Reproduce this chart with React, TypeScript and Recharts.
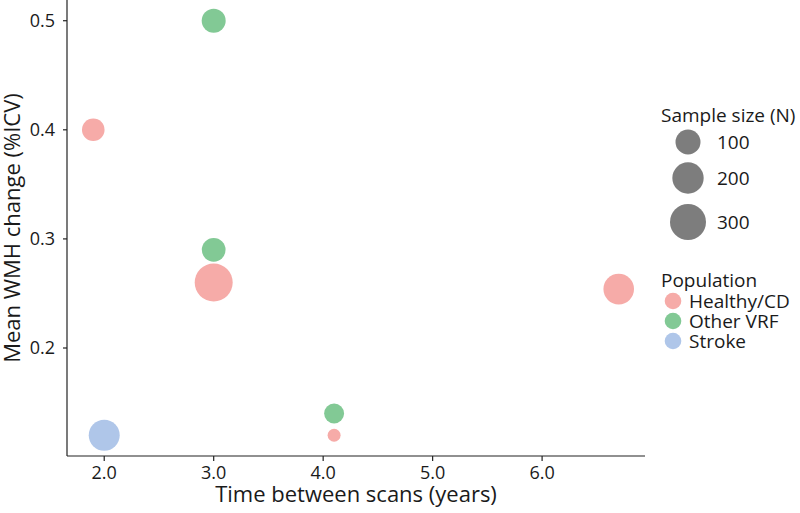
import React from 'react';
import { ScatterChart, Scatter, XAxis, YAxis, ZAxis } from 'recharts';

// ---- data ----
const healthyX = [1.9, 3.0, 4.1, 6.7];
const healthyY = [0.4, 0.26, 0.12, 0.254];
const healthyN = [73, 350, 25, 186];

const otherX = [3.0, 3.0, 4.1];
const otherY = [0.5, 0.29, 0.14];
const otherN = [88, 85, 50];

const strokeX = [2.0];
const strokeY = [0.12];
const strokeN = [193];

const xTicks = [2, 3, 4, 5, 6];
const yTicks = [0.2, 0.3, 0.4, 0.5];
const sizeLegendValues = [100, 200, 300];
const populations = ['Healthy/CD', 'Other VRF', 'Stroke'];
const popColors = ['#F6ABA8', '#82C995', '#AFC6E9'];

const N_MIN = 25;
const N_MAX = 350;

const build = (xs: number[], ys: number[], ns: number[]) =>
  xs.map((x, i) => ({ x, y: ys[i], n: ns[i] }));

const healthy = build(healthyX, healthyY, healthyN);
const other = build(otherX, otherY, otherN);
const stroke = build(strokeX, strokeY, strokeN);

const FONT = "'Open Sans', 'Noto Sans', sans-serif";
const TEXT = '#1a1a1a';

// radius from scaled (0..1) z value, like ggplot's area palette
const radiusFromT = (t: number) => 6.5 + 12.5 * Math.sqrt(Math.max(0, t));

const Bubble = (props: any) => {
  const { cx, cy, fill, size, width } = props;
  let t = typeof size === 'number' ? size : Math.PI * Math.pow((width || 0) / 2, 2);
  if (!isFinite(t)) t = 0;
  return <circle cx={cx} cy={cy} r={radiusFromT(t)} fill={fill} />;
};

const axisStyle = { stroke: '#222', strokeWidth: 1.2 };
const tickStyle = { fill: TEXT, fontSize: 18, fontFamily: FONT };

export default function App() {
  return (
    <div style={{ position: 'absolute', left: 0, top: 0, width: 800, height: 513, background: '#fff' }}>
      <ScatterChart width={800} height={513} margin={{ top: 0, right: 155, bottom: 0, left: 0 }}>
        <XAxis
          type="number"
          dataKey="x"
          domain={[1.66, 6.94]}
          ticks={xTicks}
          allowDataOverflow
          tickFormatter={(v: number) => v.toFixed(1)}
          height={57}
          tickSize={5}
          tickMargin={5}
          axisLine={axisStyle}
          tickLine={axisStyle}
          tick={tickStyle}
          label={{
            content: (p: any) => {
              const vb = p.viewBox || { x: 67, y: 456, width: 578, height: 57 };
              return (
                <text
                  x={vb.x + vb.width / 2}
                  y={vb.y + vb.height - 11}
                  textAnchor="middle"
                  fill={TEXT}
                  fontSize={22}
                  fontFamily={FONT}
                >
                  Time between scans (years)
                </text>
              );
            },
          }}
        />
        <YAxis
          type="number"
          dataKey="y"
          domain={[0.101, 0.519]}
          ticks={yTicks}
          allowDataOverflow
          tickFormatter={(v: number) => v.toFixed(1)}
          width={67}
          tickSize={4}
          tickMargin={8}
          axisLine={axisStyle}
          tickLine={axisStyle}
          tick={tickStyle}
          label={{
            content: (p: any) => {
              const vb = p.viewBox || { x: 0, y: 0, width: 67, height: 456 };
              const x = vb.x + 19.5;
              const y = vb.y + vb.height / 2;
              return (
                <text
                  x={x}
                  y={y}
                  transform={`rotate(-90 ${x} ${y})`}
                  textAnchor="middle"
                  fill={TEXT}
                  fontSize={22}
                  fontFamily={FONT}
                >
                  Mean WMH change (%ICV)
                </text>
              );
            },
          }}
        />
        <ZAxis type="number" dataKey="n" domain={[N_MIN, N_MAX]} range={[0, 1]} />
        <Scatter name="Other VRF" data={other} fill={popColors[1]} shape={Bubble} isAnimationActive={false} />
        <Scatter name="Healthy/CD" data={healthy} fill={popColors[0]} shape={Bubble} isAnimationActive={false} />
        <Scatter name="Stroke" data={stroke} fill={popColors[2]} shape={Bubble} isAnimationActive={false} />
      </ScatterChart>
      <svg
        width={800}
        height={513}
        style={{ position: 'absolute', left: 0, top: 0, pointerEvents: 'none' }}
        fontFamily={FONT}
      >
        <text x={661} y={122} fontSize={19} fill={TEXT}>
          Sample size (N)
        </text>
        {sizeLegendValues.map((v, i) => {
          const cy = [142, 178, 222][i];
          const r = radiusFromT((v - N_MIN) / (N_MAX - N_MIN));
          return (
            <g key={v}>
              <circle cx={688} cy={cy} r={r} fill="#7d7d7d" />
              <text x={717} y={cy + 7} fontSize={19} fill={TEXT}>
                {v}
              </text>
            </g>
          );
        })}
        <text x={661} y={287} fontSize={19} fill={TEXT}>
          Population
        </text>
        {populations.map((p, i) => {
          const cy = 301 + i * 20;
          return (
            <g key={p}>
              <circle cx={673} cy={cy} r={8.3} fill={popColors[i]} />
              <text x={689} y={cy + 7} fontSize={19} fill={TEXT}>
                {p}
              </text>
            </g>
          );
        })}
      </svg>
    </div>
  );
}
